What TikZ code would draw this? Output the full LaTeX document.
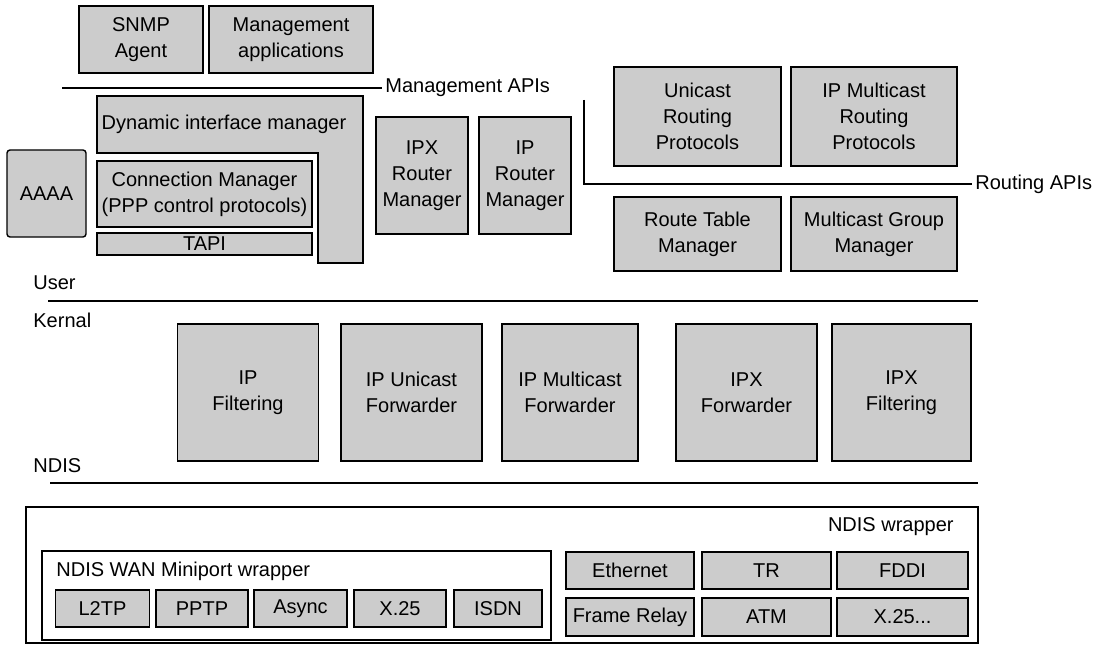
\documentclass[tikz,border=0pt]{standalone}
\usepackage{fontspec}
\setmainfont{Liberation Sans}
\definecolor{dots}{gray}{0.8}
\begin{document}
\begin{tikzpicture}[x=0.5pt,y=-0.5pt,font=\fontsize{10}{13}\selectfont,
  box/.style={draw,fill=dots,line width=0.7pt,align=center,inner sep=0pt},
  wbox/.style={draw,line width=0.7pt,inner sep=0pt},
  api/.style={line width=1pt},
  lbl/.style={inner sep=1.5pt,anchor=west}]
  \useasboundingbox (0,0) rectangle (1103,647);
  \node[box,minimum width=62pt,minimum height=33.5pt] (snmp) at (141,39.5) {SNMP\\Agent};
  \node[box,minimum width=82pt,minimum height=33.5pt] (mapps) at (291,39.5) {Management\\applications};
  \node[lbl] (mapi) at (382,88) {Management APIs};
  \coordinate (mapi0) at (62,88);
  \draw[api] (mapi0) -- (mapi.west);
  \draw[line width=0.7pt,fill=dots] (97,96) -- (363,96) -- (363,263) -- (318,263)
    -- (318,153) -- (97,153) -- cycle;
  \node (dim) at (224,124) {Dynamic interface manager};
  \node[box,rounded corners=1.5pt,minimum width=39.5pt,minimum height=43.5pt] (aaaa) at (46.5,193.5) {AAAA};
  \node[box,minimum width=107.5pt,minimum height=33pt] (conn) at (204.5,194) {Connection Manager\\(PPP control protocols)};
  \node[box,minimum width=107.5pt,minimum height=11pt] (tapi) at (204.5,244) {TAPI};
  \node[box,minimum width=46pt,minimum height=58.5pt] (ipxrm) at (422,175.5) {IPX\\Router\\Manager};
  \node[box,minimum width=46pt,minimum height=58.5pt] (iprm) at (525,175.5) {IP\\Router\\Manager};
  \node[box,minimum width=83.5pt,minimum height=49.5pt] (urp) at (697.5,116.5) {Unicast\\Routing\\Protocols};
  \node[box,minimum width=83pt,minimum height=49.5pt] (mrp) at (874,116.5) {IP Multicast\\Routing\\Protocols};
  \node[lbl] (rapi) at (972,184) {Routing APIs};
  \coordinate (rapi0) at (584,100);
  \draw[api] (rapi0) |- (rapi.west);
  \node[box,minimum width=83.5pt,minimum height=37pt] (rtm) at (697.5,234) {Route Table\\Manager};
  \node[box,minimum width=83pt,minimum height=37pt] (mgm) at (874,234) {Multicast Group\\Manager};
  \node[lbl] (user) at (30,283) {User};
  \coordinate (uk0) at (48,301);
  \coordinate (uk1) at (978,301);
  \draw[api] (uk0) -- (uk1);
  \node[lbl] (kern) at (30,320) {Kernal};
  \node[box,minimum width=70.5pt,minimum height=68.5pt] (ipf) at (248,392.5) {IP\\Filtering};
  \node[box,minimum width=70.5pt,minimum height=68.5pt] (ipuf) at (411.5,392.5) {IP Unicast\\Forwarder};
  \node[box,minimum width=68pt,minimum height=68.5pt] (ipmf) at (570,392.5) {IP Multicast\\Forwarder};
  \node[box,minimum width=70.5pt,minimum height=68.5pt] (ipxf) at (746.5,392.5) {IPX\\Forwarder};
  \node[box,minimum width=69.5pt,minimum height=68.5pt] (ipxfl) at (901.5,392.5) {IPX\\Filtering};
  \node[lbl] (ndis) at (30,466) {NDIS};
  \coordinate (nd0) at (50,483);
  \coordinate (nd1) at (978,483);
  \draw[api] (nd0) -- (nd1);
  \node[wbox,minimum width=476pt,minimum height=68pt] (wrap) at (502,575) {};
  \node[inner sep=0pt,anchor=east] (wraplbl) at (954,527) {NDIS wrapper};
  \node[wbox,minimum width=254.5pt,minimum height=44.5pt] (wan) at (296.5,595.5) {};
  \node[inner sep=0pt,anchor=west] (wanlbl) at (56,571) {NDIS WAN Miniport wrapper};
  \node[box,minimum width=47pt,minimum height=18.5pt] (l2tp) at (102.5,608.5) {L2TP};
  \node[box,minimum width=46pt,minimum height=18.5pt] (pptp) at (202,608.5) {PPTP};
  \node[box,minimum width=46.5pt,minimum height=18.5pt] (async) at (300.5,608.5) {Async};
  \node[box,minimum width=46pt,minimum height=18.5pt] (xtf) at (400,608.5) {X.25};
  \node[box,minimum width=44pt,minimum height=18.5pt] (isdn) at (498,608.5) {ISDN};
  \node[box,minimum width=64pt,minimum height=18.5pt] (eth) at (630,570.5) {Ethernet};
  \node[box,minimum width=64.5pt,minimum height=18.5pt] (tr) at (766.5,570.5) {TR};
  \node[box,minimum width=65.5pt,minimum height=18.5pt] (fddi) at (902.5,570.5) {FDDI};
  \node[box,minimum width=64pt,minimum height=19pt] (fr) at (630,617) {Frame Relay};
  \node[box,minimum width=64.5pt,minimum height=19pt] (atm) at (766.5,617) {ATM};
  \node[box,minimum width=65.5pt,minimum height=19pt] (xtfd) at (902.5,617) {X.25...};
\end{tikzpicture}
\end{document}
